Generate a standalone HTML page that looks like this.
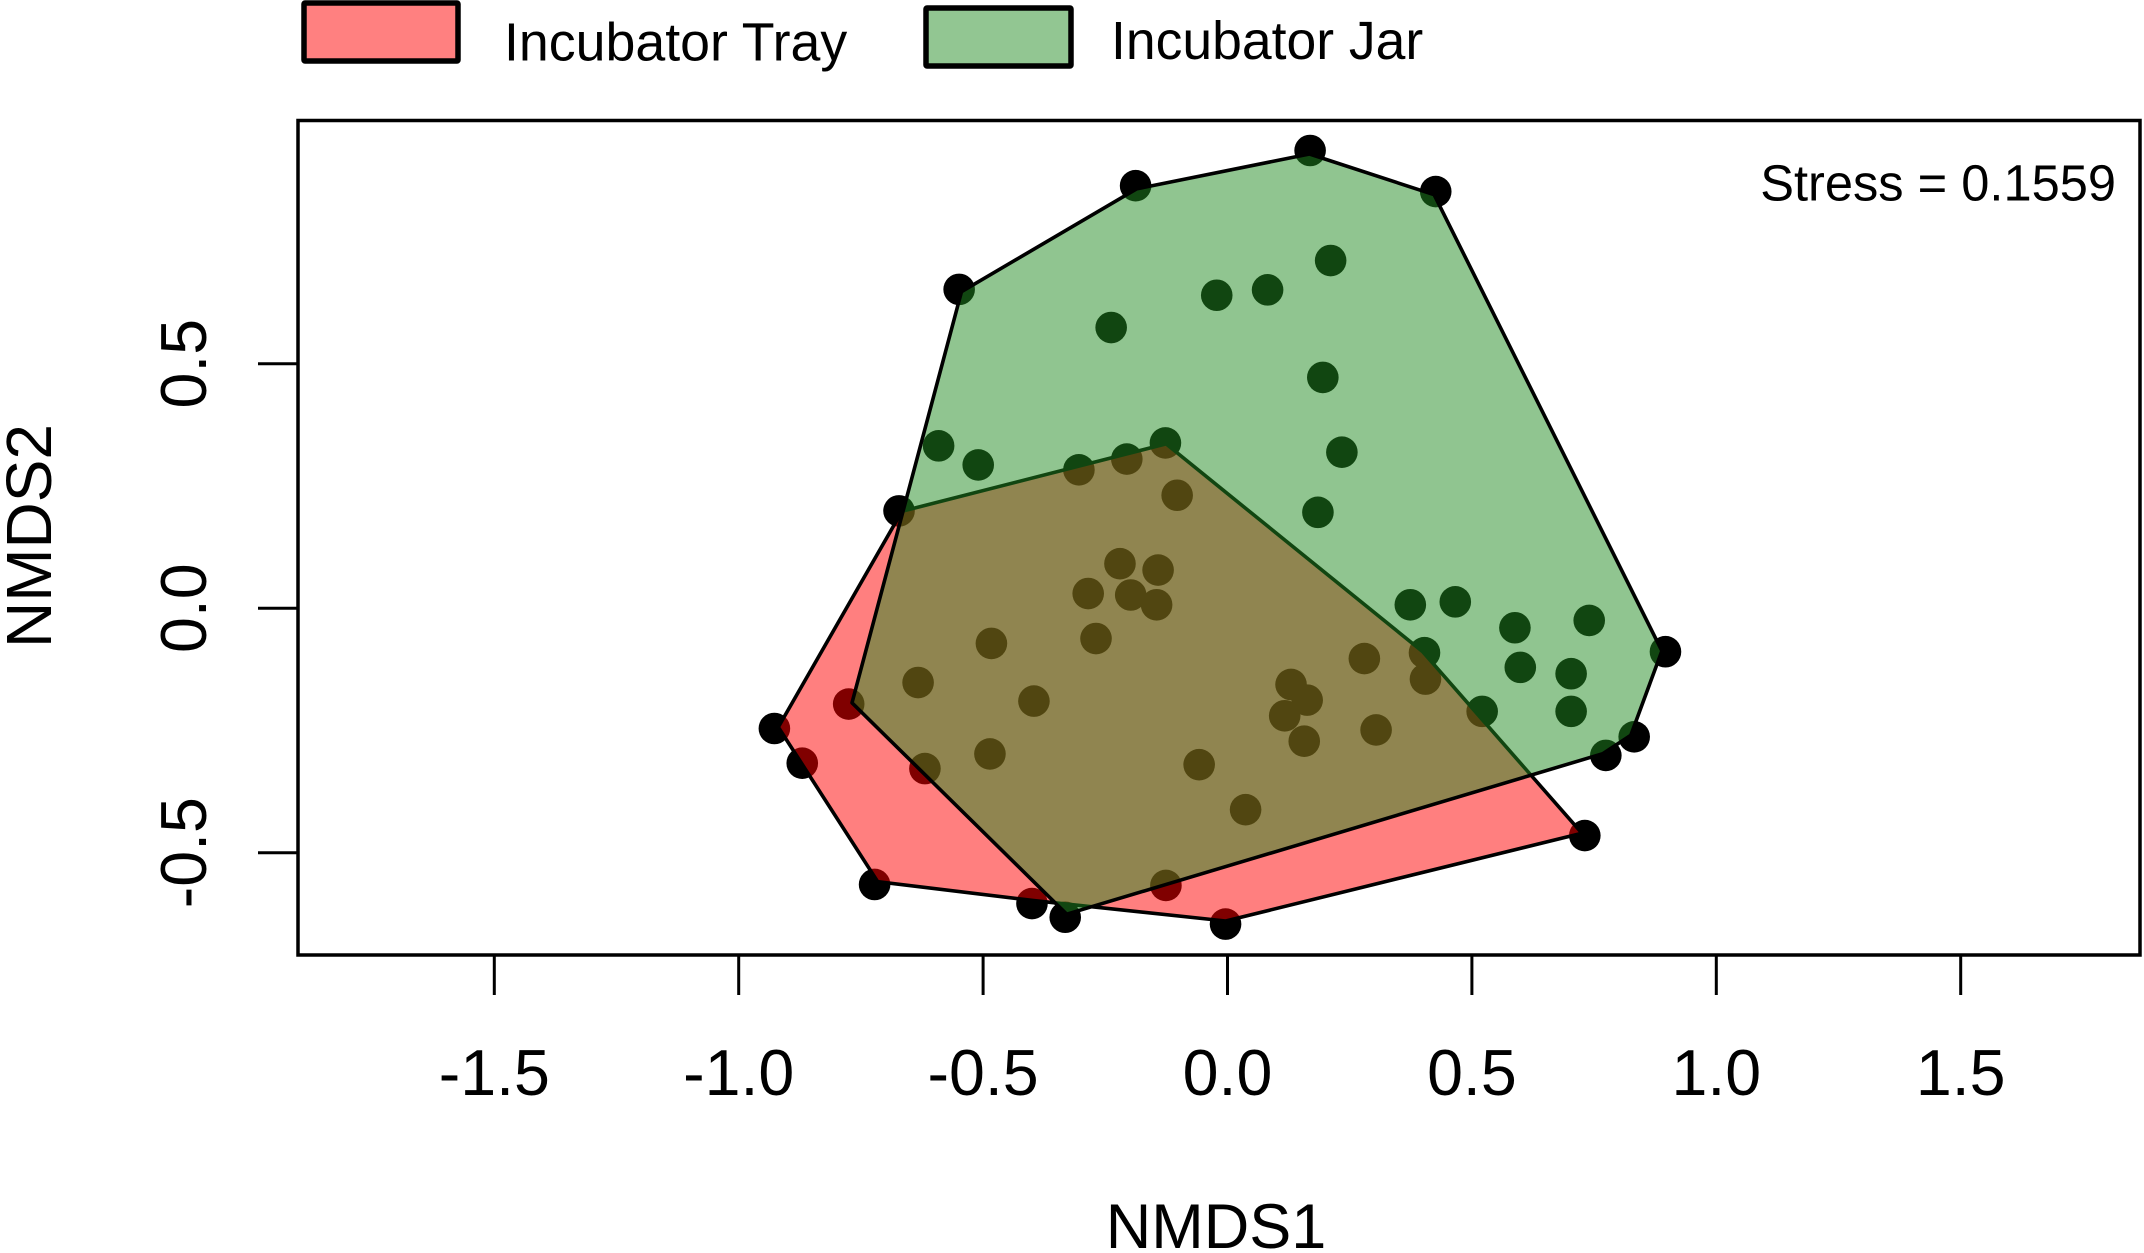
<!DOCTYPE html>
<html lang="en">
<head>
<meta charset="utf-8">
<title>NMDS ordination</title>
<style>
html,body{margin:0;padding:0;background:#fff;width:2144px;height:1253px;overflow:hidden}
svg{display:block}
text{font-family:"Liberation Sans",sans-serif;fill:#000}
</style>
</head>
<body>
<svg id="chart" xmlns="http://www.w3.org/2000/svg" width="2144" height="1253" viewBox="0 0 2144 1253">
  <g>
    <rect x="304" y="3" width="154" height="58" fill="#ff8080" stroke="#000" stroke-width="5.5" rx="1"/>
    <text x="504" y="60.5" font-size="53.7">Incubator Tray</text>
    <rect x="926" y="8" width="145" height="58" fill="#92c692" stroke="#000" stroke-width="5.5" rx="1"/>
    <text x="1111" y="59" font-size="53.5">Incubator Jar</text>
  </g>
  <g id="marks"></g>
  <rect x="298" y="120.5" width="1842" height="834.5" fill="none" stroke="#000" stroke-width="3.5"/>
  <g id="axes"></g>
  <text x="2116" y="200.5" font-size="50.6" text-anchor="end">Stress = 0.1559</text>
  <text x="1216" y="1248" font-size="63" text-anchor="middle">NMDS1</text>
  <text transform="translate(51 536) rotate(-90)" font-size="64" text-anchor="middle">NMDS2</text>
</svg>
<script>
const trayX = [-0.672,-0.127,0.403,0.731,-0.004,-0.126,-0.400,-0.722,-0.870,-0.927,-0.619,-0.486,-0.483,-0.633,-0.396,-0.058,0.037,0.157,0.304,0.130,0.163,0.117,0.280,0.405];
const trayY = [0.199,0.338,-0.091,-0.465,-0.646,-0.567,-0.604,-0.565,-0.317,-0.246,-0.328,-0.298,-0.072,-0.152,-0.190,-0.320,-0.412,-0.272,-0.249,-0.156,-0.188,-0.220,-0.103,-0.145];
const jarX = [-0.188,0.169,0.426,-0.549,0.211,-0.022,0.082,-0.238,0.195,0.234,0.185,-0.591,-0.510,-0.206,-0.304,0.374,0.466,0.588,0.740,0.599,0.703,0.703,0.774,0.832,0.896,-0.775,-0.332,0.521,-0.103,-0.220,-0.285,-0.198,-0.145,-0.142,-0.269];
const jarY = [0.864,0.936,0.852,0.652,0.711,0.640,0.651,0.574,0.472,0.319,0.196,0.332,0.293,0.305,0.283,0.007,0.013,-0.040,-0.025,-0.121,-0.134,-0.211,-0.301,-0.263,-0.089,-0.196,-0.632,-0.211,0.231,0.091,0.030,0.027,0.007,0.078,-0.062];
const xTicks = [-1.5,-1.0,-0.5,0.0,0.5,1.0,1.5];
const yTicks = [-0.5,0.0,0.5];

const NS = 'http://www.w3.org/2000/svg';
const sx = v => 1227.5 + v * 488.8;
const sy = v => 608.2 - v * 489;
const hullKeep = 0.9915;
const hx = v => sx(0.026 + (v - 0.026) * hullKeep);
const hy = v => sy(0.098 + (v - 0.098) * hullKeep);
const marks = document.getElementById('marks');
const axes = document.getElementById('axes');

function make(tag, attrs, parent) {
  const el = document.createElementNS(NS, tag);
  for (const k in attrs) el.setAttribute(k, attrs[k]);
  parent.appendChild(el);
  return el;
}

function hull(xs, ys) {
  const pts = xs.map((x, i) => [hx(x), hy(ys[i])]).sort((a, b) => a[0] - b[0] || a[1] - b[1]);
  const cross = (o, a, b) => (a[0]-o[0])*(b[1]-o[1]) - (a[1]-o[1])*(b[0]-o[0]);
  const lo = [], up = [];
  for (const p of pts) {
    while (lo.length > 1 && cross(lo[lo.length-2], lo[lo.length-1], p) <= 0) lo.pop();
    lo.push(p);
  }
  for (const p of pts.slice().reverse()) {
    while (up.length > 1 && cross(up[up.length-2], up[up.length-1], p) <= 0) up.pop();
    up.push(p);
  }
  return lo.slice(0, -1).concat(up.slice(0, -1)).map(p => p[0].toFixed(1) + ',' + p[1].toFixed(1)).join(' ');
}

trayX.forEach((x, i) => {
  const c = make('circle', {cx: sx(x), cy: sy(trayY[i]), r: 15.8, fill: '#000'}, marks);
  
  
});
jarX.forEach((x, i) => {
  const c = make('circle', {cx: sx(x), cy: sy(jarY[i]), r: 15.8, fill: '#000'}, marks);
  
  
});

const trayPoly = make('polygon', {points: hull(trayX, trayY), fill: 'rgba(255,0,0,0.5)', stroke: '#000', 'stroke-width': 3.6, 'stroke-linejoin': 'round'}, marks);


const jarPoly = make('polygon', {points: hull(jarX, jarY), fill: 'rgba(34,139,34,0.5)', stroke: '#000', 'stroke-width': 3.6, 'stroke-linejoin': 'round'}, marks);



xTicks.forEach(v => {
  const t = make('line', {x1: sx(v), x2: sx(v), y1: 955, y2: 995, stroke: '#000', 'stroke-width': 3}, axes);
  
  
  const l = make('text', {x: sx(v), y: 1095, 'font-size': 64.5, 'text-anchor': 'middle'}, axes);
  
  
  l.textContent = v.toFixed(1);
});
yTicks.forEach(v => {
  const t = make('line', {x1: 258, x2: 298, y1: sy(v), y2: sy(v), stroke: '#000', 'stroke-width': 3}, axes);
  
  
  const l = make('text', {transform: 'translate(206 ' + sy(v) + ') rotate(-90)', 'font-size': 64.5, 'text-anchor': 'middle'}, axes);
  
  
  l.textContent = v.toFixed(1);
});
</script>
</body>
</html>
